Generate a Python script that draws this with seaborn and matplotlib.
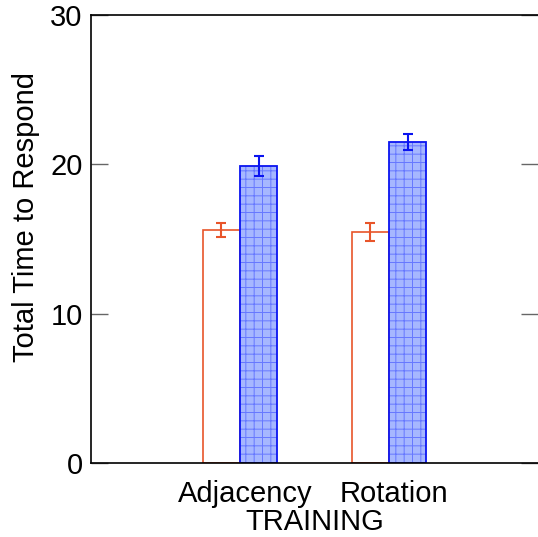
import pandas as pd
import matplotlib
matplotlib.use("Agg")
import matplotlib.pyplot as plt
import matplotlib.transforms as mtransforms
from matplotlib.patches import Rectangle
import seaborn as sns

# values
training = ["Adjacency", "Rotation"]
groups = ["A", "B"]
means_a = [15.6, 15.45]
means_b = [19.9, 21.5]
err_a = [0.45, 0.6]
err_b = [0.65, 0.55]

df = pd.DataFrame({
    "training": training * 2,
    "group": [groups[0]] * 2 + [groups[1]] * 2,
    "time": means_a + means_b,
})

sns.set_theme(style="white")
plt.rcParams["font.family"] = ["Liberation Sans", "DejaVu Sans"]
plt.rcParams["hatch.linewidth"] = 0.7
plt.rcParams["text.color"] = "black"
plt.rcParams["axes.labelcolor"] = "black"

orange = "#e8552a"
blue = "#0a14f0"

fig = plt.figure(figsize=(5.38, 5.37), dpi=100)
ax = fig.add_axes([91 / 538, 1 - 463 / 537, (538 - 91) / 538, (463 - 15) / 537])

sns.barplot(data=df, x="training", y="time", hue="group", order=training,
            hue_order=groups, width=0.5, errorbar=None, legend=False,
            ax=ax)

n = len(training)
bars = list(ax.patches[:2 * n])
for i, p in enumerate(bars):
    if i < n:
        p.set_facecolor("white")
        p.set_edgecolor(orange)
        p.set_linewidth(1.2)
    else:
        # hatch takes the edge colour, so use a light blue for the grid
        # and draw the solid outline on top
        p.set_facecolor("#a6b7ff")
        p.set_edgecolor("#6678ff")
        p.set_linewidth(0)
        p.set_hatch("++")
        ax.add_patch(Rectangle((p.get_x(), p.get_y()), p.get_width(),
                               p.get_height(), fill=False, edgecolor=blue,
                               linewidth=1.3, zorder=p.get_zorder() + 0.1))

for i, p in enumerate(bars):
    xc = p.get_x() + p.get_width() / 2
    if i < n:
        ax.errorbar(xc, means_a[i], yerr=err_a[i], color=orange, capsize=3.5,
                    elinewidth=1.5, capthick=1.5, fmt="none")
    else:
        ax.errorbar(xc, means_b[i - n], yerr=err_b[i - n], color=blue,
                    capsize=3.5, elinewidth=1.5, capthick=1.5, fmt="none")

ax.set_xlim(-1, 2)
ax.set_ylim(0, 30)
ax.set_yticks([0, 10, 20, 30])
ax.tick_params(axis="y", which="major", direction="in", length=12, width=1,
               color="#666666", labelcolor="black", left=True, right=True,
               labelsize=21, pad=6)
ax.tick_params(axis="x", bottom=False, labelsize=21, pad=6,
               labelcolor="black")
shift = mtransforms.ScaledTranslation(5 / 100, 0, fig.dpi_scale_trans)
for lab in ax.get_xticklabels():
    lab.set_transform(lab.get_transform() + shift)
for s in ["left", "top", "bottom"]:
    ax.spines[s].set_color("black")
    ax.spines[s].set_linewidth(1.2)
ax.spines["right"].set_visible(False)

ax.set_xlabel("TRAINING", fontsize=21, labelpad=0)
ax.set_ylabel("Total Time to Respond", fontsize=21)
ax.yaxis.set_label_coords(-0.115, 0.55)

fig.savefig("out.png", dpi=100)
